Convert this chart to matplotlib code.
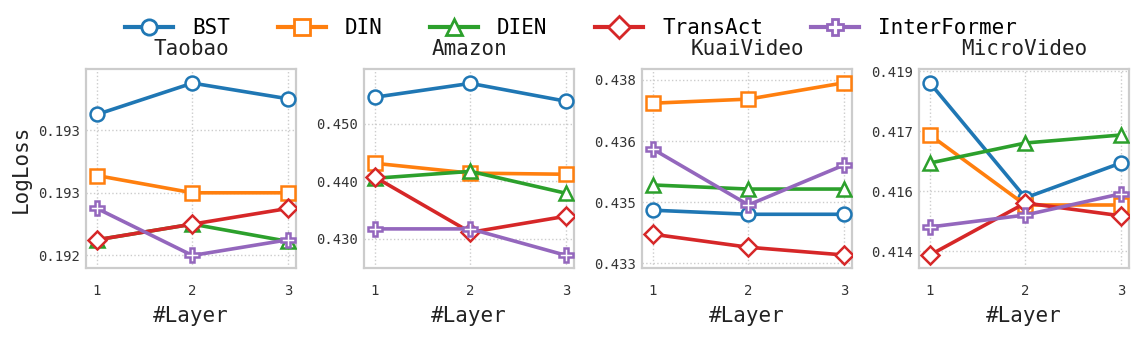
import numpy as np
import matplotlib.pyplot as plt
from matplotlib.lines import Line2D

layers = [1, 2, 3]
datasets = ["Taobao", "Amazon", "KuaiVideo", "MicroVideo"]
models = ["BST", "DIN", "DIEN", "TransAct", "InterFormer"]

# LogLoss per dataset, one list per model (BST, DIN, DIEN, TransAct, InterFormer)
taobao = [
    [0.19310, 0.19330, 0.19320],
    [0.19271, 0.19260, 0.19260],
    [0.19230, 0.19240, 0.19229],
    [0.19230, 0.19240, 0.19250],
    [0.19250, 0.19220, 0.19230],
]
amazon = [
    [0.4546, 0.4570, 0.4539],
    [0.4431, 0.4414, 0.4412],
    [0.4405, 0.4417, 0.4379],
    [0.4407, 0.4311, 0.4339],
    [0.4317, 0.4317, 0.4271],
]
kuaivideo = [
    [0.43480, 0.43470, 0.43470],
    [0.43743, 0.43753, 0.43793],
    [0.43542, 0.43532, 0.43532],
    [0.43421, 0.43389, 0.43370],
    [0.43630, 0.43493, 0.43591],
]
microvideo = [
    [0.41820, 0.41533, 0.41620],
    [0.41690, 0.41515, 0.41515],
    [0.41620, 0.41670, 0.41690],
    [0.41390, 0.41520, 0.41488],
    [0.41460, 0.41490, 0.41543],
]
all_data = [taobao, amazon, kuaivideo, microvideo]

# y ticks and their printed labels
yticks = [
    [0.1922, 0.1926, 0.1930],
    [0.430, 0.440, 0.450],
    [0.4335, 0.4350, 0.4365, 0.4380],
    [0.4140, 0.4155, 0.4170, 0.4185],
]
ytick_labels = [
    ["0.192", "0.193", "0.193"],
    ["0.430", "0.440", "0.450"],
    ["0.433", "0.435", "0.436", "0.438"],
    ["0.414", "0.416", "0.417", "0.419"],
]
ylims = [(0.19212, 0.19339), (0.4249, 0.4595), (0.43338, 0.43827), (0.413575, 0.41855)]

colors = ["#1f77b4", "#ff7f0e", "#2ca02c", "#d62728", "#9467bd"]
markers = ["o", "s", "^", "D", "P"]

plt.rcParams['font.family'] = ['DejaVu Sans Mono']

fig = plt.figure(figsize=(11.42, 3.45), dpi=100)
lefts = [86, 364, 642, 919]
W, H = 1142, 345

for i, name in enumerate(datasets):
    ax = fig.add_axes([lefts[i] / W, 1 - 268 / H, 210 / W, 199 / H])
    for m in range(len(models)):
        ax.plot(layers, all_data[i][m], color=colors[m], marker=markers[m],
                markersize=10 if markers[m] != "D" else 9, markerfacecolor="white",
                markeredgewidth=1.8, linewidth=2.6, label=models[m], zorder=3)
    ax.set_xlim(0.885, 3.085)
    ax.set_ylim(*ylims[i])
    ax.set_xticks(layers)
    ax.set_yticks(yticks[i], ytick_labels[i])
    ax.tick_params(axis='both', labelsize=10, length=0, colors="#333333")
    ax.tick_params(axis='x', pad=11.5)
    ax.tick_params(axis='y', pad=4.5)
    ax.grid(True, linestyle=":", color="#cccccc", linewidth=1)
    for s in ax.spines.values():
        s.set_color("#cccccc")
        s.set_linewidth(1.6)
    ax.set_title(name, fontsize=15, pad=10, color="#222222")
    ax.set_xlabel("#Layer", fontsize=15, color="#222222", labelpad=6)
    if i == 0:
        ax.set_ylabel("LogLoss", fontsize=15, color="#222222", labelpad=5)

handles = [Line2D([], [], color=colors[m], marker=markers[m], markersize=11,
                  markerfacecolor="white", markeredgewidth=2, linewidth=3)
           for m in range(len(models))]
fig.legend(handles, models, loc="center", bbox_to_anchor=(0.5, 0.918), ncol=5,
           frameon=False, fontsize=15, handlelength=2.3, columnspacing=2.3,
           handletextpad=0.9)

fig.savefig("out.png", dpi=100)
